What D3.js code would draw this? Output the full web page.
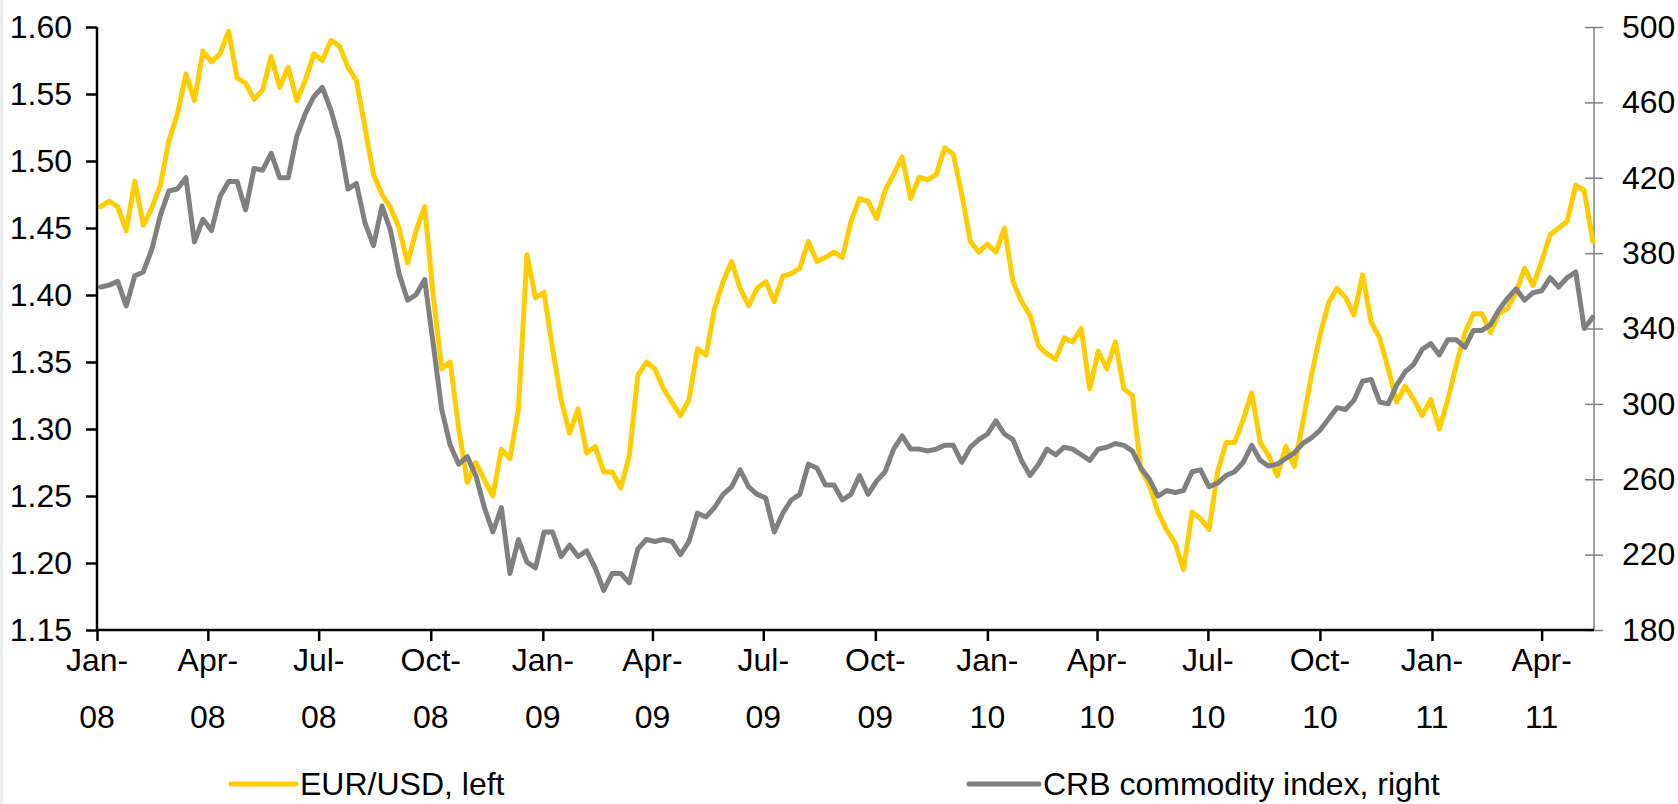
<!DOCTYPE html>
<html>
<head>
<meta charset="utf-8">
<script src="https://cdn.jsdelivr.net/npm/d3@7"></script>
<style>
  body { margin: 0; background: #fff; }
  svg { display: block; font-family: "Liberation Sans", Arial, sans-serif; }
</style>
</head>
<body>
<script>
// weekly closes, first Friday of 2008 onwards
const firstWeek = "2008-01-04";

const eurUsd = [
  1.466, 1.470, 1.466, 1.448, 1.485, 1.452, 1.465, 1.482, 1.515, 1.535,
  1.565, 1.545, 1.582, 1.574, 1.580, 1.597, 1.562, 1.558, 1.546, 1.553,
  1.578, 1.555, 1.570, 1.545, 1.560, 1.580, 1.575, 1.590, 1.586, 1.570,
  1.560, 1.525, 1.490, 1.475, 1.465, 1.450, 1.424, 1.448, 1.466, 1.400,
  1.345, 1.350, 1.300, 1.260, 1.275, 1.262, 1.250, 1.285, 1.278, 1.315,
  1.430, 1.398, 1.402, 1.360, 1.322, 1.297, 1.315, 1.282, 1.287, 1.268,
  1.268, 1.256, 1.280, 1.340, 1.350, 1.345, 1.330, 1.320, 1.310, 1.322,
  1.360, 1.355, 1.390, 1.410, 1.425, 1.405, 1.392, 1.405, 1.410, 1.395,
  1.414, 1.416, 1.420, 1.440, 1.425, 1.428, 1.432, 1.428, 1.455, 1.472,
  1.470, 1.457, 1.478, 1.490, 1.503, 1.472, 1.488, 1.486, 1.490, 1.510,
  1.505, 1.475, 1.440, 1.432, 1.438, 1.432, 1.450, 1.410, 1.395, 1.385,
  1.362, 1.356, 1.352, 1.368, 1.365, 1.375, 1.330, 1.358, 1.345, 1.365,
  1.330, 1.325, 1.270, 1.258, 1.238, 1.225, 1.215, 1.195, 1.238, 1.233,
  1.225, 1.268, 1.290, 1.290, 1.307, 1.327, 1.290, 1.280, 1.265, 1.287,
  1.272, 1.305, 1.340, 1.370, 1.394, 1.405, 1.398, 1.385, 1.415, 1.380,
  1.368, 1.345, 1.320, 1.332, 1.322, 1.310, 1.322, 1.300, 1.322, 1.348,
  1.372, 1.386, 1.386, 1.372, 1.386, 1.390, 1.402, 1.420, 1.407, 1.425,
  1.445, 1.450, 1.455, 1.482, 1.478, 1.440
];

const crb = [
  362, 363, 365, 352, 368, 370, 382, 400, 413, 414,
  420, 386, 398, 392, 410, 418, 418, 403, 425, 424,
  433, 420, 420, 442, 454, 463, 468, 456, 440, 414,
  417, 396, 384, 405, 392, 369, 355, 358, 366, 332,
  297, 278, 268, 272, 262, 245, 232, 245, 210, 228,
  216, 213, 232, 232, 219, 225, 219, 222, 213, 201,
  210, 210, 205, 223, 228, 227, 228, 227, 220, 227,
  242, 240, 245, 252, 256, 265, 256, 252, 250, 232,
  242, 249, 252, 268, 266, 257, 257, 249, 252, 262,
  252, 259, 264, 276, 283, 276, 276, 275, 276, 278,
  278, 269, 277, 281, 284, 291, 284, 281, 270, 262,
  268, 276, 273, 277, 276, 273, 270, 276, 277, 279,
  278, 275, 266, 260, 251, 254, 253, 254, 264, 265,
  256, 258, 262, 264, 269, 278, 270, 267, 268, 271,
  274, 279, 282, 286, 292, 298, 297, 302, 312, 313,
  301, 300, 310, 317, 321, 329, 332, 326, 334, 334,
  330, 339, 339, 342, 350, 356, 361, 355, 359, 360,
  367, 362, 367, 370, 340, 346
];

const leftTicks = [1.15, 1.20, 1.25, 1.30, 1.35, 1.40, 1.45, 1.50, 1.55, 1.60];
const rightTicks = [180, 220, 260, 300, 340, 380, 420, 460, 500];
const seriesNames = ["EUR/USD, left", "CRB commodity index, right"];
const seriesColors = ["#ffcc00", "#808080"];

const width = 1678, height = 804;
const plot = { left: 97, right: 1594, top: 27, bottom: 630 };

const svg = d3.select("body").append("svg")
  .attr("width", width)
  .attr("height", height);

svg.append("rect").attr("x", 0).attr("y", 0).attr("width", 3).attr("height", height)
  .attr("fill", "#ebebeb");

const start = d3.timeParse("%Y-%m-%d")(firstWeek);
const dates = eurUsd.map((d, i) => d3.timeDay.offset(start, 7 * i));

const x = d3.scaleTime()
  .domain([new Date(2008, 0, 1), new Date(2011, 4, 14)])
  .range([plot.left, plot.right]);
const yLeft = d3.scaleLinear().domain([1.15, 1.60]).range([plot.bottom, plot.top]);
const yRight = d3.scaleLinear().domain([180, 500]).range([plot.bottom, plot.top]);

const fontSize = 32;

// right axis (grey, ticks crossing the line)
const rAxis = svg.append("g")
  .attr("transform", `translate(${plot.right},0)`)
  .call(d3.axisRight(yRight).tickValues(rightTicks).tickSize(9).tickPadding(19));
rAxis.select(".domain").attr("stroke", "#808080").attr("stroke-width", 1.5)
  .attr("d", `M0,${plot.top}V${plot.bottom}`);
rAxis.selectAll(".tick line").attr("x1", -9).attr("x2", 9).attr("stroke", "#808080").attr("stroke-width", 1.5);
rAxis.selectAll(".tick text").attr("font-size", fontSize).attr("fill", "#000")
  .attr("font-family", "Liberation Sans, Arial, sans-serif");

// lines
const eurLine = d3.line().x((d, i) => x(dates[i])).y(d => yLeft(d));
const crbLine = d3.line().x((d, i) => x(dates[i])).y(d => yRight(d));

svg.append("path").datum(eurUsd)
  .attr("d", eurLine)
  .attr("fill", "none")
  .attr("stroke", seriesColors[0])
  .attr("stroke-width", 5)
  .attr("stroke-linejoin", "round")
  .attr("stroke-linecap", "round");

svg.append("path").datum(crb)
  .attr("d", crbLine)
  .attr("fill", "none")
  .attr("stroke", seriesColors[1])
  .attr("stroke-width", 5)
  .attr("stroke-linejoin", "round")
  .attr("stroke-linecap", "round");

// left axis
const lAxis = svg.append("g")
  .attr("transform", `translate(${plot.left},0)`)
  .call(d3.axisLeft(yLeft).tickValues(leftTicks).tickFormat(d3.format(".2f")).tickSize(11).tickPadding(14));
lAxis.select(".domain").attr("stroke", "#000").attr("stroke-width", 2.5)
  .attr("d", `M0,${plot.top}V${plot.bottom}`);
lAxis.selectAll(".tick line").attr("stroke", "#000").attr("stroke-width", 2.5);
lAxis.selectAll(".tick text").attr("font-size", fontSize).attr("fill", "#000")
  .attr("font-family", "Liberation Sans, Arial, sans-serif");

// bottom axis, quarterly
const quarterTicks = d3.timeMonth.every(3).range(new Date(2008, 0, 1), new Date(2011, 4, 14));
const bAxis = svg.append("g")
  .attr("transform", `translate(0,${plot.bottom})`)
  .call(d3.axisBottom(x).tickValues(quarterTicks).tickSize(11).tickFormat(""));
bAxis.select(".domain").attr("stroke", "#000").attr("stroke-width", 2.5)
  .attr("d", `M${plot.left},0H${plot.right}`);
bAxis.selectAll(".tick line").attr("stroke", "#000").attr("stroke-width", 2.5);

const fmtMonth = d3.timeFormat("%b-");
const fmtYear = d3.timeFormat("%y");
const xLabels = svg.append("g").attr("font-size", fontSize).attr("text-anchor", "middle");
quarterTicks.forEach(t => {
  const lab = xLabels.append("text").attr("x", x(t));
  lab.append("tspan").attr("x", x(t)).attr("y", 671).text(fmtMonth(t));
  lab.append("tspan").attr("x", x(t)).attr("y", 728).text(fmtYear(t));
});

// legend
const legendItems = [
  { name: seriesNames[0], color: seriesColors[0], x0: 231, x1: 296, tx: 300 },
  { name: seriesNames[1], color: seriesColors[1], x0: 969, x1: 1039, tx: 1043 }
];
const legend = svg.append("g");
legendItems.forEach(it => {
  legend.append("line")
    .attr("x1", it.x0).attr("x2", it.x1)
    .attr("y1", 784).attr("y2", 784)
    .attr("stroke", it.color).attr("stroke-width", 5).attr("stroke-linecap", "round");
  legend.append("text")
    .attr("x", it.tx).attr("y", 795)
    .attr("font-size", 32)
    .text(it.name);
});
</script>
</body>
</html>
